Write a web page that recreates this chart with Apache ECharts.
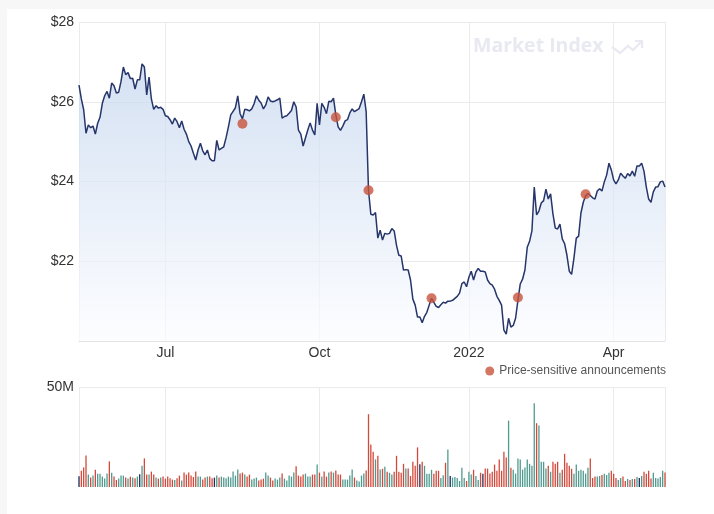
<!DOCTYPE html>
<html>
<head>
<meta charset="utf-8">
<script src="https://cdn.jsdelivr.net/npm/echarts@6/dist/echarts.min.js"></script>
<style>
  html, body { margin: 0; padding: 0; background: #f7f7f7; }
  #card { position: absolute; left: 7px; top: 9px; width: 707px; height: 505px; background: #fff; }
  #chart { position: absolute; left: 0; top: 0; width: 714px; height: 514px; }
</style>
</head>
<body>
<div id="card"></div>
<div id="chart"></div>
<script>
// trading calendar (ASX-style, weekends + public holidays skipped)
const startDate = "2021-05-10";
const holidays = ["2021-06-14", "2021-12-27", "2021-12-28", "2022-01-03",
                  "2022-01-26", "2022-04-15", "2022-04-18", "2022-04-25"];

// daily close, $
const closePrices = [
  26.42, 26.07, 25.80, 25.21, 25.42, 25.35, 25.39, 25.19, 25.46, 25.61,
  25.96, 26.15, 26.26, 26.09, 26.47, 26.40, 26.22, 26.24, 26.51, 26.87,
  26.68, 26.73, 26.58, 26.59, 26.32, 26.55, 26.55, 26.95, 26.87, 26.17,
  26.62, 26.07, 25.81, 25.90, 25.84, 25.86, 25.81, 25.65, 25.63, 25.55,
  25.44, 25.59, 25.50, 25.35, 25.52, 25.31, 25.19, 25.00, 24.89, 24.71,
  24.54, 24.79, 24.96, 24.77, 24.67, 24.79, 24.58, 24.52, 24.52, 25.03,
  24.79, 24.83, 24.87, 25.10, 25.37, 25.67, 25.76, 25.85, 26.15, 25.70,
  25.57, 25.81, 25.80, 25.77, 25.82, 25.95, 26.15, 26.04, 25.97, 25.82,
  25.92, 26.12, 26.02, 26.00, 26.02, 26.05, 26.09, 25.59, 25.63, 25.65,
  25.71, 25.78, 26.00, 25.87, 25.29, 25.19, 24.89, 25.09, 25.29, 25.47,
  25.29, 25.17, 25.96, 25.42, 25.96, 25.86, 25.70, 26.01, 26.00, 26.09,
  25.67, 25.37, 25.28, 25.39, 25.52, 25.55, 25.72, 25.82, 25.75, 25.79,
  25.83, 26.00, 26.19, 25.75, 23.78, 23.18, 23.16, 23.22, 22.58, 22.78,
  22.53, 22.70, 22.68, 22.70, 22.82, 22.76, 22.40, 22.15, 22.13, 21.78,
  21.79, 21.78, 21.53, 21.05, 20.90, 20.60, 20.60, 20.46, 20.62, 20.72,
  20.90, 21.07, 20.97, 20.87, 20.84, 20.91, 20.97, 20.95, 21.00, 21.00,
  21.02, 21.07, 21.12, 21.20, 21.44, 21.48, 21.36, 21.60, 21.75, 21.53,
  21.73, 21.82, 21.75, 21.75, 21.73, 21.53, 21.44, 21.40, 21.30, 21.12,
  21.02, 20.90, 20.27, 20.17, 20.57, 20.35, 20.39, 20.57, 21.02, 21.43,
  21.55, 21.78, 22.35, 22.50, 22.76, 23.86, 23.16, 23.26, 23.46, 23.52,
  23.81, 23.56, 23.69, 23.19, 22.83, 22.81, 22.93, 22.56, 22.44, 22.15,
  21.75, 21.67, 22.08, 22.58, 22.63, 23.21, 23.48, 23.64, 23.70, 23.65,
  23.59, 23.56, 23.76, 23.82, 23.76, 23.99, 24.16, 24.46, 24.29, 24.04,
  23.94, 24.04, 24.21, 24.14, 24.08, 24.20, 24.14, 24.26, 24.13, 24.39,
  24.39, 24.46, 24.26, 23.86, 23.56, 23.48, 23.74, 23.86, 23.87, 23.99,
  24.01, 23.86
];

// daily volume, millions of shares
const volumesM = [
  5.4, 8.1, 9.7, 15.8, 6.2, 4.7, 5.7, 8.6, 6.6, 6.6,
  5.2, 4.2, 6.7, 12.8, 7.1, 5.2, 3.5, 4.2, 5.7, 5.7,
  4.7, 4.2, 5.2, 4.7, 4.4, 5.2, 6.4, 10.6, 14.3, 6.2,
  6.2, 7.7, 6.2, 4.7, 4.2, 4.7, 5.2, 4.2, 5.2, 4.4,
  3.7, 3.5, 4.4, 5.7, 3.2, 7.2, 6.2, 7.2, 5.7, 5.0,
  7.7, 5.2, 5.2, 3.7, 4.7, 5.2, 5.2, 4.4, 4.7, 5.7,
  4.7, 5.2, 4.7, 4.4, 5.2, 4.7, 7.7, 5.7, 8.7, 6.7,
  7.2, 6.2, 5.2, 6.2, 3.7, 4.2, 4.7, 3.2, 3.7, 4.2,
  7.2, 5.7, 4.7, 3.2, 4.2, 3.7, 4.7, 6.7, 4.2, 3.2,
  5.7, 5.2, 7.2, 10.4, 5.7, 5.2, 6.2, 6.7, 5.2, 5.2,
  6.2, 6.2, 11.2, 7.2, 5.2, 7.7, 5.2, 7.2, 7.7, 7.2,
  8.2, 6.2, 6.2, 3.7, 3.7, 3.7, 5.7, 8.7, 4.7, 3.2,
  2.7, 5.7, 6.7, 8.2, 36.4, 21.3, 17.6, 13.8, 15.6, 8.7,
  9.1, 10.1, 7.6, 7.1, 6.2, 7.6, 15.6, 7.6, 7.1, 11.6,
  9.2, 9.2, 5.5, 12.6, 10.6, 19.8, 11.4, 12.6, 10.6, 6.6,
  6.6, 8.6, 6.6, 8.1, 8.1, 4.5, 5.9, 12.1, 18.8, 5.5,
  4.7, 5.0, 4.5, 3.0, 9.6, 4.5, 3.0, 7.6, 6.2, 8.6,
  5.5, 3.5, 7.1, 6.6, 9.2, 9.2, 6.7, 7.6, 11.2, 8.1,
  13.8, 8.1, 17.6, 14.8, 33.2, 9.6, 8.6, 6.7, 14.3, 13.8,
  8.7, 9.7, 13.8, 11.6, 10.6, 41.9, 31.9, 30.7, 12.6, 12.6,
  9.2, 10.6, 7.6, 12.6, 11.6, 12.6, 7.1, 8.6, 16.6, 12.1,
  10.6, 9.1, 6.6, 11.2, 8.1, 8.6, 8.1, 6.7, 9.6, 14.3,
  4.5, 5.2, 5.2, 5.5, 6.0, 6.6, 6.0, 7.1, 8.1, 6.6,
  4.5, 3.5, 4.5, 5.2, 3.0, 4.0, 3.5, 4.0, 4.0, 5.0,
  4.5, 5.5, 7.6, 6.6, 8.1, 4.2, 7.1, 4.5, 4.2, 5.0,
  8.1, 7.2
];

// price-sensitive announcements
const annDates = ["2021-08-17", "2021-10-12", "2021-11-01", "2021-12-08", "2022-02-03", "2022-03-16"];
const annPrices = [25.45, 25.61, 23.78, 21.07, 21.09, 23.68];

// x tick labels: first trading day of these months
const tickMonths = ["2021-07", "2021-10", "2022-01", "2022-04"];
const tickLabels = ["Jul", "Oct", "2022", "Apr"];

function tradingDays(start, n) {
  const out = [];
  const d = new Date(start + "T00:00:00Z");
  while (out.length < n) {
    const iso = d.toISOString().slice(0, 10);
    const wd = d.getUTCDay();
    if (wd !== 0 && wd !== 6 && holidays.indexOf(iso) < 0) out.push(iso);
    d.setUTCDate(d.getUTCDate() + 1);
  }
  return out;
}

const dates = tradingDays(startDate, closePrices.length);
const last = dates.length - 1;

const tickAt = {};
tickMonths.forEach((m, k) => {
  const i = dates.findIndex(d => d.slice(0, 7) === m);
  if (i >= 0) tickAt[i] = tickLabels[k];
});

const UP = "#4f9a8f", DOWN = "#d2493b", FLAT = "#1f2c5c";
const GRID_LINE = "#ebebeb";
const FONT = "'Liberation Sans', Arial, sans-serif";

const volData = volumesM.map((v, i) => {
  let c = FLAT;
  if (i > 0 && closePrices[i] > closePrices[i - 1]) c = UP;
  else if (i > 0 && closePrices[i] < closePrices[i - 1]) c = DOWN;
  return { value: v, itemStyle: { color: c } };
});

const splitAt = i => (i in tickAt) || i === 0 || i === last;

const chart = echarts.init(document.getElementById("chart"), null, { renderer: "canvas" });

chart.setOption({
  animation: false,
  textStyle: { fontFamily: FONT },
  grid: [
    { left: 79, top: 22, width: 586, height: 319 },
    { left: 79, top: 387, width: 586, height: 100 }
  ],
  legend: {
    data: ["Price-sensitive announcements"],
    right: 43, top: 360,
    icon: "circle", itemWidth: 9, itemHeight: 9,
    textStyle: { color: "#555", fontSize: 12, fontFamily: FONT }
  },
  xAxis: [
    {
      type: "category", gridIndex: 0, data: dates, boundaryGap: false,
      axisLine: { lineStyle: { color: "#e2e2e2" } },
      axisTick: { show: false },
      axisLabel: {
        interval: i => i in tickAt,
        formatter: (v, i) => tickAt[i] || "",
        color: "#333", fontSize: 14, margin: 5
      },
      splitLine: { show: true, interval: splitAt, lineStyle: { color: GRID_LINE } }
    },
    {
      type: "category", gridIndex: 1, data: dates, boundaryGap: false,
      axisLine: { show: false }, axisTick: { show: false }, axisLabel: { show: false },
      splitLine: { show: true, interval: splitAt, lineStyle: { color: GRID_LINE } }
    }
  ],
  yAxis: [
    {
      type: "value", gridIndex: 0, min: 20, max: 28, interval: 2,
      axisLine: { show: false }, axisTick: { show: false },
      axisLabel: { formatter: "${value}", showMinLabel: false, color: "#333", fontSize: 14, margin: 5 },
      splitLine: { lineStyle: { color: GRID_LINE }, showMinLine: false }
    },
    {
      type: "value", gridIndex: 1, min: 0, max: 50, interval: 50,
      axisLine: { show: false }, axisTick: { show: false },
      axisLabel: { formatter: "{value}M", showMinLabel: false, color: "#333", fontSize: 14, margin: 5 },
      splitLine: { lineStyle: { color: GRID_LINE }, showMinLine: false }
    }
  ],
  graphic: [
    {
      type: "text", left: 473, top: 36, silent: true,
      style: { text: "Market Index", fill: "#e8e9f1", font: "bold 19.5px 'Open Sans', sans-serif" }
    },
    {
      type: "polyline", silent: true,
      shape: { points: [[612, 47], [620, 53], [628, 46], [633, 50], [642, 41]] },
      style: { stroke: "#e8e9f1", lineWidth: 2.2, fill: null }
    },
    {
      type: "polyline", silent: true,
      shape: { points: [[635, 41], [642, 41], [642, 48]] },
      style: { stroke: "#e8e9f1", lineWidth: 2.2, fill: null }
    }
  ],
  series: [
    {
      name: "Close", type: "line", xAxisIndex: 0, yAxisIndex: 0,
      data: closePrices, showSymbol: false, symbol: "none",
      lineStyle: { color: "#26356a", width: 1.5 },
      areaStyle: {
        color: new echarts.graphic.LinearGradient(0, 0, 0, 1, [
          { offset: 0, color: "#c2d4ed" },
          { offset: 1, color: "#fbfcff" }
        ])
      },
      z: 2
    },
    {
      name: "Price-sensitive announcements", type: "scatter", xAxisIndex: 0, yAxisIndex: 0,
      data: annDates.map((d, k) => [d, annPrices[k]]),
      symbolSize: 10, itemStyle: { color: "#c8543d" }, z: 3
    },
    {
      name: "Volume", type: "bar", xAxisIndex: 1, yAxisIndex: 1,
      data: volData, barWidth: 1.3
    }
  ]
});
</script>
</body>
</html>
